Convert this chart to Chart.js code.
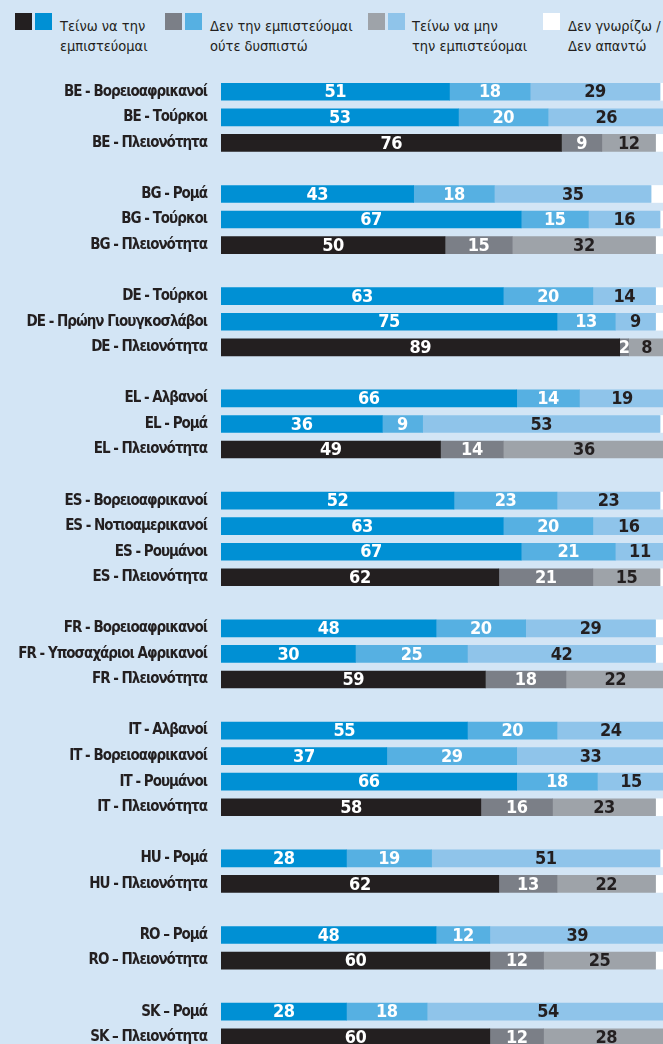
<!DOCTYPE html>
<html>
<head>
<meta charset="utf-8">
<script src="https://cdn.jsdelivr.net/npm/chart.js@4.4.1/dist/chart.umd.min.js"></script>
<style>
  html, body { margin: 0; padding: 0; width: 663px; height: 1044px; overflow: hidden; background: #d3e5f5; }
  body { position: relative; font-family: 'DejaVu Sans Condensed', sans-serif; color: #231f20; }
  #wrap { position: absolute; left: 0; top: 0; width: 672px; height: 1052px; }
  .sq { position: absolute; top: 13px; width: 17px; height: 17px; }
  .lt { position: absolute; top: 16px; font-size: 14.5px; line-height: 20px; white-space: nowrap; }
</style>
</head>
<body>
<div id="legend"></div>
<div id="wrap"><canvas id="trustChart"></canvas></div>
<script>
const FONT = "'DejaVu Sans Condensed', sans-serif";

// categories ('' = gap row between countries)
const categories = [
  'BE - Βορειοαφρικανοί', 'BE - Τούρκοι', 'BE - Πλειονότητα', '',
  'BG - Ρομά', 'BG - Τούρκοι', 'BG - Πλειονότητα', '',
  'DE - Τούρκοι', 'DE - Πρώην Γιουγκοσλάβοι', 'DE - Πλειονότητα', '',
  'EL - Αλβανοί', 'EL - Ρομά', 'EL - Πλειονότητα', '',
  'ES - Βορειοαφρικανοί', 'ES - Νοτιοαμερικανοί', 'ES - Ρουμάνοι', 'ES - Πλειονότητα', '',
  'FR - Βορειοαφρικανοί', 'FR - Υποσαχάριοι Αφρικανοί', 'FR - Πλειονότητα', '',
  'IT - Αλβανοί', 'IT - Βορειοαφρικανοί', 'IT - Ρουμάνοι', 'IT - Πλειονότητα', '',
  'HU - Ρομά', 'HU - Πλειονότητα', '',
  'RO – Ρομά', 'RO – Πλειονότητα', '',
  'SK – Ρομά', 'SK – Πλειονότητα'
];

const trust    = [51, 53, 76, null, 43, 67, 50, null, 63, 75, 89, null, 66, 36, 49, null, 52, 63, 67, 62, null, 48, 30, 59, null, 55, 37, 66, 58, null, 28, 62, null, 48, 60, null, 28, 60];
const neutral  = [18, 20,  9, null, 18, 15, 15, null, 20, 13,  2, null, 14,  9, 14, null, 23, 20, 21, 21, null, 20, 25, 18, null, 20, 29, 18, 16, null, 19, 13, null, 12, 12, null, 18, 12];
const distrust = [29, 26, 12, null, 35, 16, 32, null, 14,  9,  8, null, 19, 53, 36, null, 23, 16, 11, 15, null, 29, 42, 22, null, 24, 33, 15, 23, null, 51, 22, null, 39, 25, null, 54, 28];
const dontKnow = [ 2,  1,  3, null,  4,  2,  3, null,  3,  3,  1, null,  1,  2,  1, null,  2,  1,  1,  2, null,  3,  3,  1, null,  1,  1,  1,  3, null,  2,  3, null,  1,  3, null,  0,  0];

const seriesNames = [
  'Τείνω να την<br>εμπιστεύομαι',
  'Δεν την εμπιστεύομαι<br>ούτε δυσπιστώ',
  'Τείνω να μην<br>την εμπιστεύομαι',
  'Δεν γνωρίζω /<br>Δεν απαντώ'
];

// [minority colour, majority colour]
const palette = [
  ['#0090d4', '#231f20'],
  ['#56b0e2', '#7b7f87'],
  ['#8fc4ea', '#9ea3a9'],
  ['#ffffff', '#ffffff']
];
const labelColors = ['#ffffff', '#ffffff', '#231f20', null];

const isMajority = categories.map(c => c.includes('Πλειονότητα'));

// legend (two-tone squares, two-line text)
const legendPos = [
  { sq: [15, 35], text: 60 },
  { sq: [165, 185], text: 210 },
  { sq: [368, 388], text: 412 },
  { sq: [543], text: 568 }
];
const legend = document.getElementById('legend');
legendPos.forEach((p, i) => {
  const cols = i === 3 ? ['#ffffff'] : [palette[i][1], palette[i][0]];
  p.sq.forEach((x, j) => {
    const d = document.createElement('div');
    d.className = 'sq';
    d.style.left = x + 'px';
    d.style.background = cols[j];
    legend.appendChild(d);
  });
  const t = document.createElement('div');
  t.className = 'lt';
  t.style.left = p.text + 'px';
  t.innerHTML = seriesNames[i];
  legend.appendChild(t);
});

// tighter letters for the narrow category labels
const tightText = {
  id: 'tightText',
  beforeDraw(chart) { chart.ctx.letterSpacing = '-1px'; }
};

// numbers inside the segments
const segmentLabels = {
  id: 'segmentLabels',
  afterDatasetsDraw(chart) {
    const ctx = chart.ctx;
    ctx.save();
    ctx.letterSpacing = '-0.5px';
    ctx.font = 'bold 18px ' + FONT;
    ctx.textAlign = 'center';
    ctx.textBaseline = 'middle';
    chart.data.datasets.forEach((ds, di) => {
      if (!labelColors[di]) return;
      chart.getDatasetMeta(di).data.forEach((el, i) => {
        const v = ds.data[i];
        if (v == null || v === 0) return;
        ctx.fillStyle = labelColors[di];
        ctx.fillText(String(v), (el.x + el.base) / 2, el.y + 1);
      });
    });
    ctx.restore();
  }
};

const allSeries = [trust, neutral, distrust, dontKnow];

new Chart(document.getElementById('trustChart'), {
  type: 'bar',
  data: {
    labels: categories,
    datasets: allSeries.map((vals, i) => ({
      data: vals,
      backgroundColor: vals.map((v, k) => palette[i][isMajority[k] ? 1 : 0]),
      borderWidth: 0,
      barThickness: 17
    }))
  },
  options: {
    indexAxis: 'y',
    responsive: true,
    maintainAspectRatio: false,
    animation: false,
    layout: { padding: { top: 79, bottom: 2, right: 3, left: 0 } },
    plugins: { legend: { display: false }, tooltip: { enabled: false } },
    scales: {
      x: { stacked: true, min: 0, max: 100, display: false },
      y: {
        stacked: true,
        grid: { display: false, drawTicks: false },
        border: { display: false },
        ticks: { color: '#231f20', padding: 14, font: { family: FONT, size: 15, weight: 'bold' }, autoSkip: false },
        afterFit(scale) {
          scale.width = 221;
          scale.paddingTop = 0;
          scale.paddingBottom = 0;
        }
      }
    }
  },
  plugins: [tightText, segmentLabels]
});
</script>
</body>
</html>
